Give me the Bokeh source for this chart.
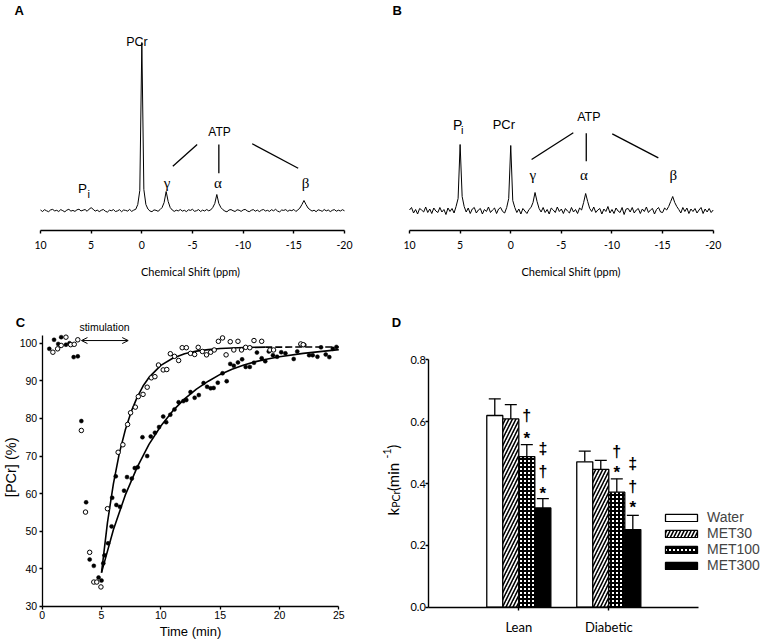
import numpy as np
from bokeh.plotting import figure
from bokeh.layouts import row, column
from bokeh.models import (Range1d, FixedTicker, Label, Arrow, OpenHead, Legend, LegendItem,
                          ColumnDataSource, Whisker, TeeHead, NumeralTickFormatter)
from bokeh.transform import dodge
from bokeh.core.properties import value
from bokeh.embed import file_html
from bokeh.resources import INLINE

# ---------------------------------------------------------------- data
# Panels A / B: 31P spectra sampled every 0.2 ppm from +10 to -20 ppm (arbitrary units)
shift_start, shift_stop = 10.0, -20.0
spec_A = [0.5, -1, 0.8, -0.3, -1.2, 0.6, 1.1, -0.4, 0.2, -1,
          0.9, -0.2, -1.3, 0.4, 1.2, -0.6, 0.1, -0.9, 0.7, 1.3,
          -0.5, 0.3, 1.0, -0.8, 1.4, 2.8, 1.2, -0.6, 0.4, -1.1,
          0.2, 1.0, -0.7, -1.6, 0.3, -0.2, 0.9, -1.0, -0.4, 0.8,
          -1.2, 0.5, 0.1, -0.6, 1.1, -0.9, 0.4, 1.2, 6, 20,
          168, 21, 6, 1.5, -0.5, -1.2, 0.6, 0.2, -0.8, 0.9,
          3, 8, 19, 9, 3, 0.5, -0.9, 0.3, -0.4, 1.0,
          -0.6, 0.2, -1.1, 0.7, 0.1, 1.2, -0.8, -0.2, 0.9, -1.0,
          0.4, -0.5, 1.0, -0.3, 0.6, 3, 7, 16, 7, 3,
          0.8, -0.6, -1.3, 0.5, 0.9, -0.2, -1.0, 0.7, 0.3, -0.9,
          0.6, 1.1, -0.4, -1.2, 0.2, 0.9, -0.7, 0.4, -1.1, 0.3,
          1.0, -0.5, 0.2, -0.9, 0.8, -0.3, 1.2, -0.6, -1.4, 0.5,
          0.1, 0.9, -0.8, 0.4, -0.2, 1.1, -1.0, 0.6, 2.5, 6,
          10, 6, 2.5, 0.8, -0.6, 0.3, -1.2, 0.7, 0.1, -0.8,
          1.0, -0.4, 0.5, -1.1, 0.2, 0.9, -0.7, 0.3, -0.5, 0.8,
          -0.3]
spec_B = [0.5, 3, -2.5, 1, -3.5, 2, 0.5, -1.5, 3.5, -2,
          1.5, -3, 2.5, -0.5, -2, 3, -1.5, 1, -4, 2.5,
          -1, 2, -2.5, 4, 12, 66, 14, 4, -1.5, 2.5,
          -3, 1.5, 3, -2.5, 0.5, 2, -3.5, 1, -1, 3.5,
          -2, 0.5, 2.5, -3, 1.5, 3, -1, -2.5, 3, 12,
          65, 10, 3, -2, 1.5, -3.5, 2, -0.5, -3, 1,
          3, 8, 18, 9, 2, -1.5, 3, -2, 1, -3.5,
          2.5, 0.5, -2, 3.5, -1, 1.5, -3, 2, -0.5, -2.5,
          3, -1.5, 1, -3, 2.5, 0.5, 8, 17, 9, 2,
          -1, 3.5, -2, 0.5, 2, -3.5, 1.5, -1, 4, -2.5,
          1, -3, 2.5, -0.5, -2, 3, -4, 1.5, 2, -1.5,
          3, -2.5, 0.5, 2, -3, 1.5, -1, 3.5, -2, 0.5,
          2, -3.5, 1, 3, -1.5, -2, 2.5, 0.5, 4, 9,
          14, 8, 4, 1, -2.5, 3, -1, 2.5, -3, 1.5,
          -1, 2, -2.5, 0.5, 3, -3, 1.5, -1.5, 2, -2,
          0.5]
shift_ticks = [10, 5, 0, -5, -10, -15, -20]
shift_tick_labels = ["10", "5", "0", "-5", "-10", "-15", "-20"]

# Panel C: PCr time course (open / filled circles) and fitted recoveries
open_t = [0.9, 1.3, 1.6, 2.0, 2.4, 2.7, 3.0, 3.3, 3.65, 4.0, 4.35, 4.6, 4.95,
          5.5, 6.4, 6.8, 7.2, 7.45, 7.85, 8.1, 8.5, 8.85, 9.2, 9.5, 9.8, 10.2, 10.5,
          10.8, 11.15, 11.5, 11.8, 12.15, 12.5, 12.85, 13.15, 13.5, 13.85, 14.2, 14.5,
          14.85, 15.2, 15.5, 15.85, 16.15, 16.5, 16.8, 17.15, 17.5, 17.85, 18.5, 19.2,
          19.5, 21.8, 22.0]
open_v = [97.6, 98.5, 99.4, 101.6, 99.6, 99.7, 100.9, 76.8, 55.1, 44.4, 36.5, 36.5, 35.2,
          56.0, 71.0, 73.0, 78.4, 81.5, 83.0, 85.8, 86.4, 88.3, 90.8, 91.1, 94.2, 92.9, 93.0,
          97.2, 96.5, 95.4, 98.8, 98.8, 97.3, 97.0, 98.9, 97.8, 96.9, 97.6, 98.2,
          100.5, 101.4, 96.9, 100.4, 98.2, 100.5, 98.2, 98.9, 98.8, 100.7, 100.5, 98.2,
          98.2, 99.8, 99.6]
fill_t = [0.6, 1.0, 1.35, 1.6, 2.0, 2.3, 2.65, 3.0, 3.3, 3.7, 4.0, 4.35, 4.75, 5.0,
          5.15, 5.25, 5.55, 5.9, 6.2,
          5.85, 6.25, 6.55, 6.9, 7.15, 7.55, 7.8, 8.05, 8.45, 8.85,
          9.15, 9.5, 9.85, 10.2, 10.45, 10.8, 11.15, 11.5, 11.9, 12.15,
          12.5, 12.85, 13.2, 13.6, 13.9, 14.2, 14.45, 14.8, 15.2, 15.55,
          15.85, 16.15, 16.5, 16.85, 17.15, 17.5, 17.85, 18.1, 18.5, 18.8,
          19.1, 19.45, 19.8, 20.15, 20.5, 21.2, 21.5, 21.8, 22.1, 22.5,
          22.8, 23.2, 23.5, 23.9, 24.2, 24.5, 24.8]
fill_v = [98.5, 100.9, 99.8, 101.6, 99.6, 100.0, 96.3, 96.5, 79.3, 57.7, 42.5, 40.8, 37.7, 36.9,
          41.5, 43.6, 46.8, 58.9, 64.6,
          51.3, 57.0, 56.5, 60.8, 64.4, 64.0, 66.8, 67.0, 75.0, 70.0,
          75.2, 76.2, 77.7, 80.5, 79.0, 81.0, 82.4, 84.3, 84.6, 84.9,
          87.0, 85.5, 86.2, 89.4, 88.4, 88.0, 88.1, 89.5, 92.0, 89.9,
          94.5, 94.0, 94.9, 95.7, 93.7, 93.7, 94.8, 97.5, 96.0, 95.2,
          97.8, 96.8, 96.4, 97.6, 97.3, 95.8, 97.8, 99.6, 99.5, 96.8,
          96.8, 96.4, 98.9, 97.0, 96.3, 98.5, 99.0]
fit_fast_t = [5.0, 5.5, 6.0, 6.5, 7.0, 7.5, 8.0, 8.5, 9.0, 10.0, 11.0, 12.0, 13.0, 14.0, 15.0, 17.0, 18.8]
fit_fast_v = [39.0, 52.3, 62.6, 70.7, 76.9, 81.8, 85.6, 88.6, 90.9, 94.1, 96.0, 97.2, 97.9, 98.3, 98.6, 98.85, 98.95]
fit_fast_tail_t = [18.8, 25.0]
fit_fast_tail_v = [98.95, 99.0]
fit_slow_t = [5, 6, 7, 8, 9, 10, 11, 12, 13, 14, 15, 16, 17, 18, 19, 20, 22, 25]
fit_slow_v = [39.0, 50.4, 59.6, 67.0, 73.1, 78.0, 82.0, 85.2, 87.8, 89.9, 91.7, 93.1, 94.2, 95.1, 95.8, 96.4, 97.3, 98.3]
time_ticks = [0, 5, 10, 15, 20, 25]
pcr_ticks = [30, 40, 50, 60, 70, 80, 90, 100]

# Panel D: kPCr (min^-1), mean and upper SEM
groups = ["Lean", "Diabetic"]
series_names = ["Water", "MET30", "MET100", "MET300"]
k_water = [0.620, 0.470]
k_met30 = [0.609, 0.446]
k_met100 = [0.487, 0.372]
k_met300 = [0.321, 0.251]
e_water = [0.054, 0.035]
e_met30 = [0.046, 0.029]
e_met100 = [0.039, 0.043]
e_met300 = [0.030, 0.046]
k_ticks = [0.0, 0.2, 0.4, 0.6, 0.8]
sig_group = [0, 0, 0, 0, 0, 1, 1, 1, 1, 1]
sig_series = [2, 2, 3, 3, 3, 2, 2, 3, 3, 3]
sig_text = ["†", "*", "‡", "†", "*", "†", "*", "‡", "†", "*"]
sig_y = [0.620, 0.558, 0.512, 0.440, 0.381, 0.504, 0.448, 0.466, 0.391, 0.334]

# ---------------------------------------------------------------- helpers
SANS = "Liberation Sans"
CAL = "Lato"
SERIF = "Liberation Serif"


def txt(p, x, y, text, font=SANS, size="12px", style="normal", align="center",
        baseline="middle", angle=0.0):
    p.add_layout(Label(x=x, y=y, text=text, text_font=font, text_font_size=size,
                       text_font_style=style, text_align=align, text_baseline=baseline,
                       angle=angle, text_color="black"))


def style_axis(ax, font, size, width=1.3, tick_out=3, standoff=4):
    ax.axis_line_color = "black"
    ax.axis_line_width = width
    ax.major_tick_line_color = "black"
    ax.major_tick_line_width = width
    ax.major_tick_in = 0
    ax.major_tick_out = tick_out
    ax.minor_tick_line_color = None
    ax.major_label_text_font = font
    ax.major_label_text_font_size = size
    ax.major_label_text_color = "black"
    ax.major_label_standoff = standoff
    ax.axis_label_text_font = font
    ax.axis_label_text_font_style = "normal"
    ax.axis_label_text_color = "black"


def clean(p):
    p.outline_line_color = None
    p.xgrid.visible = False
    p.ygrid.visible = False
    p.background_fill_color = "white"
    p.border_fill_color = "white"


ppm = np.linspace(shift_start, shift_stop, len(spec_A))


def spectrum_fig(width, x_left, x_right, spec):
    p = figure(width=width, height=300, output_backend="svg", toolbar_location=None,
               x_range=Range1d(x_left, x_right), y_range=Range1d(-20, 210),
               y_axis_location=None, min_border_left=0, min_border_right=0,
               min_border_top=0, min_border_bottom=70)
    clean(p)
    p.line(ppm, spec, line_color="black", line_width=1)
    ax = p.xaxis[0]
    style_axis(ax, CAL, "10.5px", width=1.4, tick_out=3, standoff=7)
    ax.bounds = (shift_stop, shift_start)
    ax.ticker = FixedTicker(ticks=shift_ticks)
    ax.major_label_overrides = {t: s for t, s in zip(shift_ticks, shift_tick_labels)}
    ax.axis_label = "Chemical Shift (ppm)"
    ax.axis_label_text_font_size = "11px"
    ax.axis_label_standoff = 13
    return p


# ---------------------------------------------------------------- A
pA = spectrum_fig(380, 13.947, -23.553, spec_A)
txt(pA, 12.1, 200, "A", size="13px", style="bold")
txt(pA, 0.48, 169, "PCr", size="12.5px")
txt(pA, -7.67, 79, "ATP", size="12px")
txt(pA, 5.86, 22, "P", size="13.5px")
txt(pA, 5.25, 17, "i", size="11px")
txt(pA, -2.50, 28, "γ", font=SERIF, size="15px")
txt(pA, -7.50, 28, "α", font=SERIF, size="15px")
txt(pA, -16.15, 28, "β", font=SERIF, size="15px")
pA.segment(x0=[-3.06, -7.60, -10.89], y0=[44.3, 66.0, 66.7],
           x1=[-5.46, -7.60, -15.43], y1=[66.0, 37.3, 42.3], line_color="black", line_width=1.3)

# ---------------------------------------------------------------- B
pB = spectrum_fig(381, 12.865, -24.77, spec_B)
txt(pB, 11.215, 200, "B", size="13px", style="bold")
txt(pB, 5.23, 86, "P", size="14px")
txt(pB, 4.80, 81, "i", size="11px")
txt(pB, 0.68, 86, "PCr", size="13px")
txt(pB, -7.72, 94, "ATP", size="12.5px")
txt(pB, -2.18, 36, "γ", font=SERIF, size="15px")
txt(pB, -7.22, 36, "α", font=SERIF, size="15px")
txt(pB, -16.06, 36, "β", font=SERIF, size="15px")
pB.segment(x0=[-2.06, -7.46, -10.03], y0=[51.0, 77.3, 76.7],
           x1=[-6.18, -7.46, -14.58], y1=[77.7, 49.3, 52.7], line_color="black", line_width=1.3)

# ---------------------------------------------------------------- C
pC = figure(width=380, height=341, output_backend="svg", toolbar_location=None,
            x_range=Range1d(-3.515, 28.515), y_range=Range1d(20.695, 111.35),
            min_border_left=0, min_border_right=0, min_border_top=0, min_border_bottom=0)
clean(pC)
for ax in (pC.xaxis[0], pC.yaxis[0]):
    style_axis(ax, SANS, "10.5px", width=1.3, tick_out=3, standoff=2)
pC.xaxis[0].fixed_location = 30
pC.yaxis[0].fixed_location = 0
pC.xaxis[0].bounds = (0, 25)
pC.yaxis[0].bounds = (30, 102)
pC.xaxis[0].ticker = FixedTicker(ticks=time_ticks)
pC.yaxis[0].ticker = FixedTicker(ticks=pcr_ticks)
pC.xaxis[0].axis_label = "Time (min)"
pC.xaxis[0].axis_label_text_font_size = "13px"
pC.xaxis[0].axis_label_standoff = 1
pC.line(fit_fast_t, fit_fast_v, line_color="black", line_width=1.6)
pC.line(fit_fast_tail_t, fit_fast_tail_v, line_color="black", line_width=1.6, line_dash="7 3")
pC.line(fit_slow_t, fit_slow_v, line_color="black", line_width=1.6)
pC.scatter(fill_t, fill_v, marker="circle", size=4, fill_color="black", line_color="black", line_width=0.5)
pC.scatter(open_t, open_v, marker="circle", size=4.5, fill_color="white", line_color="black", line_width=1)
pC.add_layout(Arrow(x_start=3.31, y_start=100.7, x_end=7.25, y_end=100.7, line_width=1,
                    start=OpenHead(size=6, line_width=1), end=OpenHead(size=6, line_width=1)))
txt(pC, 5.25, 104.2, "stimulation", size="10.5px")
txt(pC, -1.83, 105.5, "C", size="13px", style="bold")
txt(pC, -2.62, 67, "[PCr] (%)", size="14.5px", angle=np.pi / 2)

# ---------------------------------------------------------------- D
group_pos = [i + 1 for i in range(len(groups))]
bar_w = 0.178
offsets = [(i - 1.5) * bar_w for i in range(len(series_names))]
pD = figure(width=381, height=341, output_backend="svg", toolbar_location=None,
            x_range=Range1d(-0.537, 3.697), y_range=Range1d(-0.1109, 0.9918),
            min_border_left=0, min_border_right=0, min_border_top=0, min_border_bottom=0)
clean(pD)
for ax in (pD.xaxis[0], pD.yaxis[0]):
    style_axis(ax, CAL, "11px", width=1.4, tick_out=3, standoff=4)
pD.xaxis[0].fixed_location = 0
pD.yaxis[0].fixed_location = 0
pD.xaxis[0].bounds = (0, 3)
pD.xaxis[0].ticker = FixedTicker(ticks=group_pos)
pD.xaxis[0].major_label_overrides = {g: n for g, n in zip(group_pos, groups)}
pD.xaxis[0].major_label_text_font_size = "13px"
pD.xaxis[0].major_label_standoff = 9
pD.yaxis[0].bounds = (0, 0.8)
pD.yaxis[0].major_label_standoff = 0
pD.yaxis[0].ticker = FixedTicker(ticks=k_ticks)
pD.yaxis[0].formatter = NumeralTickFormatter(format="0.0")

src = ColumnDataSource(dict(
    g=group_pos,
    water=k_water, met30=k_met30, met100=k_met100, met300=k_met300,
    water_hi=[a + b for a, b in zip(k_water, e_water)],
    met30_hi=[a + b for a, b in zip(k_met30, e_met30)],
    met100_hi=[a + b for a, b in zip(k_met100, e_met100)],
    met300_hi=[a + b for a, b in zip(k_met300, e_met300)],
))
keys = ["water", "met30", "met100", "met300"]
styles = [
    dict(fill_color="white"),
    dict(fill_color="white", hatch_pattern="right_diagonal_line", hatch_color="black",
         hatch_weight=1.6, hatch_scale=7),
    dict(fill_color="white", hatch_pattern="cross", hatch_color="black",
         hatch_weight=2.0, hatch_scale=4),
    dict(fill_color="black"),
]
items = []
for key, off, st, name in zip(keys, offsets, styles, series_names):
    r = pD.vbar(x=dodge("g", off, range=pD.x_range), top=key, width=bar_w, bottom=0,
                source=src, line_color="black", line_width=1.3, **st)
    pD.add_layout(Whisker(source=src, base=dodge("g", off, range=pD.x_range), upper=key + "_hi",
                          lower=key, dimension="height", line_color="black", line_width=1.3,
                          upper_head=TeeHead(size=12, line_width=1.3, line_color="black"),
                          lower_head=None))
    items.append(LegendItem(label=name, renderers=[r]))

sig_x = [group_pos[g] + offsets[s] for g, s in zip(sig_group, sig_series)]
dag = [(x, y, t) for x, y, t in zip(sig_x, sig_y, sig_text) if t != "*"]
ast = [(x, y - 0.012, t) for x, y, t in zip(sig_x, sig_y, sig_text) if t == "*"]
pD.text(x=[d[0] for d in dag], y=[d[1] for d in dag], text=[d[2] for d in dag],
        text_align="center", text_baseline="middle", text_font_style="bold",
        text_font=value(SANS), text_font_size="16px", text_color="black")
pD.text(x=[d[0] for d in ast], y=[d[1] for d in ast], text=[d[2] for d in ast],
        text_align="center", text_baseline="middle", text_font_style="bold",
        text_font=value(SANS), text_font_size="17px", text_color="black")

leg = Legend(items=items, location=(281, 68), orientation="vertical",
             glyph_width=40, glyph_height=9, label_standoff=6, spacing=0,
             padding=0, margin=0, border_line_color=None, background_fill_alpha=0,
             label_text_font=SANS, label_text_font_size="14px", label_height=9)
pD.add_layout(leg)

txt(pD, -0.359, 0.921, "D", size="13px", style="bold")
# rotated y label: k_PCr (min^-1)
txt(pD, -0.403, 0.2965, "k", font=CAL, size="15px", align="left", baseline="alphabetic", angle=np.pi / 2)
txt(pD, -0.362, 0.3217, "PCr", font=CAL, size="10.5px", align="left", baseline="alphabetic", angle=np.pi / 2)
txt(pD, -0.403, 0.3757, " (min", font=CAL, size="15px", align="left", baseline="alphabetic", angle=np.pi / 2)
txt(pD, -0.468, 0.4808, "-1", font=CAL, size="10.5px", align="left", baseline="alphabetic", angle=np.pi / 2)
txt(pD, -0.403, 0.5125, ")", font=CAL, size="15px", align="left", baseline="alphabetic", angle=np.pi / 2)

layout = column(row(pA, pB), row(pC, pD))
open("out.html", "w").write(file_html(layout, INLINE))
